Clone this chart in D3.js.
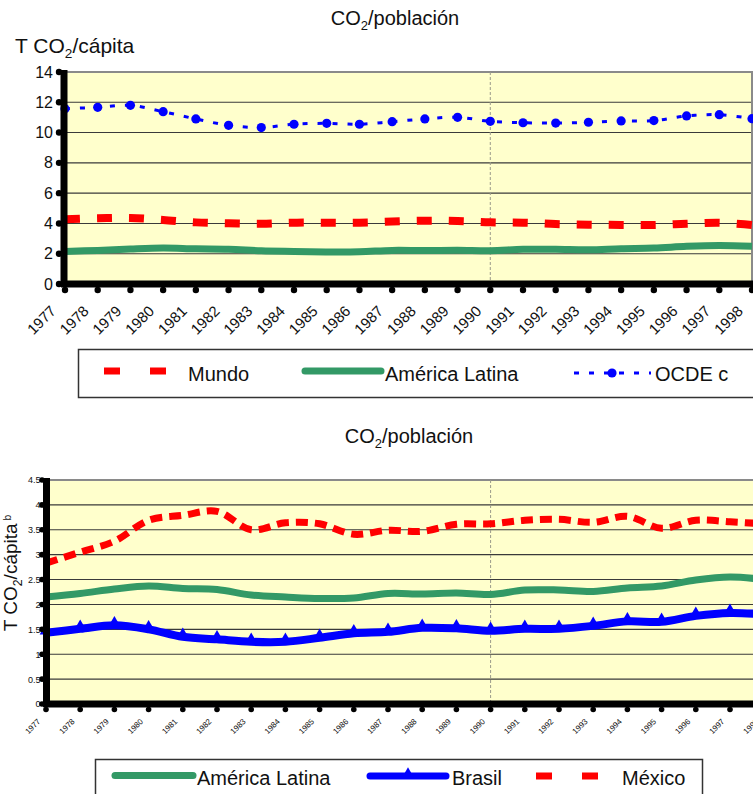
<!DOCTYPE html>
<html><head><meta charset="utf-8">
<script src="https://cdn.jsdelivr.net/npm/d3@7"></script>
<style>
html,body{margin:0;padding:0;background:#fff;}
svg{display:block;font-family:"Liberation Sans",Arial,Helvetica,sans-serif;}
</style></head>
<body>
<svg id="c" width="753" height="794"></svg>
<script>
const years = ["1977","1978","1979","1980","1981","1982","1983","1984","1985","1986","1987","1988","1989","1990","1991","1992","1993","1994","1995","1996","1997","1998"];
const mundo = [4.27,4.34,4.36,4.23,4.07,4.01,3.98,4.05,4.05,4.05,4.12,4.18,4.16,4.07,4.05,3.96,3.92,3.90,3.90,3.98,4.05,3.90];
const ocde = [11.58,11.67,11.80,11.38,10.90,10.48,10.33,10.55,10.61,10.55,10.72,10.90,11.01,10.74,10.65,10.63,10.68,10.77,10.79,11.10,11.18,10.92];
const americaLatina = [2.15,2.22,2.31,2.37,2.32,2.30,2.19,2.15,2.12,2.13,2.22,2.21,2.23,2.20,2.29,2.29,2.26,2.33,2.37,2.49,2.55,2.50];
const brasil = [1.43,1.51,1.58,1.50,1.35,1.30,1.25,1.25,1.33,1.42,1.45,1.53,1.52,1.47,1.51,1.51,1.57,1.66,1.65,1.77,1.83,1.80];
const mexico = [2.83,3.05,3.27,3.69,3.79,3.87,3.50,3.64,3.62,3.41,3.49,3.47,3.61,3.62,3.69,3.71,3.65,3.77,3.53,3.69,3.66,3.62];
const ticksTop = [0,2,4,6,8,10,12,14];
const ticksBottom = [0,0.5,1,1.5,2,2.5,3,3.5,4,4.5];
const markerYear = "1990";

const svg = d3.select("#c");
const RED="#FF0000", GREEN="#339966", BLUE="#0000FF", BG="#FFFFCC";

function subText(g, x, y, parts, size, anchor, transform){
  const t = g.append("text").attr("x",x).attr("y",y).attr("font-size",size)
    .attr("text-anchor",anchor||"start").attr("fill","#111");
  if(transform) t.attr("transform",transform);
  parts.forEach(p=>{
    const ts = t.append("tspan").text(p.t);
    if(p.sub){ ts.attr("font-size",size*0.65).attr("dy",size*0.25); }
    else if(p.sup){ ts.attr("font-size",size*0.55).attr("dy",-size*0.3); }
    else if(p.back){ ts.attr("dy",p.back); }
  });
  return t;
}

function chart(o){
  const g = svg.append("g");
  const x = d3.scalePoint().domain(years).range([o.x0,o.x1]);
  const y = d3.scaleLinear().domain([0,o.ymax]).range([o.yb,o.yt]);
  g.append("rect").attr("x",o.x0).attr("y",o.yt).attr("width",Math.max(0,o.x1-o.x0+20)).attr("height",o.yb-o.yt).attr("fill",BG);
  g.append("g").selectAll("line").data(o.ticks.filter(d=>d>0 && d<o.ymax)).join("line")
    .attr("x1",o.x0).attr("x2",o.x1+20).attr("y1",d=>y(d)).attr("y2",d=>y(d))
    .attr("stroke","#3a3a3a").attr("stroke-width",1.1);
  g.append("line").attr("x1",o.x0).attr("x2",o.x1+20).attr("y1",y(o.ymax)).attr("y2",y(o.ymax))
    .attr("stroke","#8a8a8a").attr("stroke-width",2);
  if(o.rightFrame){
    g.append("line").attr("x1",o.x1).attr("x2",o.x1).attr("y1",y(o.ymax)).attr("y2",o.yb)
      .attr("stroke","#8a8a8a").attr("stroke-width",2);
  }
  g.append("line").attr("x1",x(markerYear)).attr("x2",x(markerYear)).attr("y1",y(o.ymax)).attr("y2",o.yb)
    .attr("stroke","#9a9a8a").attr("stroke-width",1).attr("stroke-dasharray","3,2");
  const line = (vals)=>d3.line().x((d,i)=>x(years[i])).y(d=>y(d)).curve(d3.curveCatmullRom.alpha(0.5))(vals);
  o.series.forEach(s=>{
    g.append("path").attr("d",line(s.values)).attr("fill","none").attr("stroke",s.color)
      .attr("stroke-width",s.width).attr("stroke-dasharray",s.dash||null)
      .attr("stroke-linecap",s.cap||"butt").attr("stroke-linejoin","round");
    if(s.marker==="circle"){
      g.append("g").selectAll("circle").data(s.values).join("circle")
        .attr("cx",(d,i)=>x(years[i])).attr("cy",d=>y(d)).attr("r",4.6).attr("fill",s.color);
    } else if(s.marker==="triangle"){
      g.append("g").selectAll("path").data(s.values).join("path")
        .attr("d",d3.symbol(d3.symbolTriangle,70)())
        .attr("transform",(d,i)=>`translate(${x(years[i])},${y(d)-2})`).attr("fill",s.color);
    }
  });
  const ax = g.append("g").attr("transform",`translate(${o.axX},0)`)
    .call(d3.axisLeft(y).tickValues(o.ticks).tickSize(0).tickPadding(o.yPad).tickFormat(d=>String(d)));
  ax.select(".domain").remove();
  ax.selectAll("text").attr("font-size",o.yFont).attr("fill","#111").attr("font-family","Liberation Sans, Arial, sans-serif");
  g.append("g").selectAll("circle").data(o.ticks).join("circle")
    .attr("cx",o.axX-o.dotOff).attr("cy",d=>y(d)).attr("r",o.dotR).attr("fill","#000");
  g.append("g").selectAll("circle").data(years).join("circle")
    .attr("cx",d=>x(d)).attr("cy",o.yb+o.dotOff+1).attr("r",o.dotR).attr("fill","#000");
  g.append("line").attr("x1",o.axX).attr("x2",o.axX).attr("y1",y(o.ymax)-2).attr("y2",o.yb+3)
    .attr("stroke","#000").attr("stroke-width",7);
  g.append("line").attr("x1",o.axX-3).attr("x2",o.x1+20).attr("y1",o.yb).attr("y2",o.yb)
    .attr("stroke","#000").attr("stroke-width",7);
  g.append("g").selectAll("text").data(years).join("text")
    .attr("transform",d=>`translate(${x(d)-o.lx},${o.yb+o.ly}) rotate(-45)`)
    .attr("text-anchor","end").attr("font-size",o.xFont).attr("fill","#111").text(d=>d);
  return g;
}

// ---------- top chart ----------
subText(svg, 395, 25, [{t:"CO"},{t:"2",sub:true},{t:"/población",back:-20*0.25}], 20, "middle");
subText(svg, 15, 53, [{t:"T CO"},{t:"2",sub:true},{t:"/cápita",back:-21*0.25}], 21, "start");
chart({x0:65,x1:752,yt:72,yb:284,ymax:14,ticks:ticksTop,axX:64,yPad:11,yFont:16,dotOff:5,dotR:3.2,
  xFont:15,lx:8,ly:28,rightFrame:true,
  series:[
    {values:americaLatina,color:GREEN,width:7},
    {values:mundo,color:RED,width:8,dash:"15,17"},
    {values:ocde,color:BLUE,width:3,dash:"5,10",marker:"circle"}
  ]});
const lg1 = svg.append("g");
lg1.append("rect").attr("x",78.5).attr("y",349.5).attr("width",700).attr("height",48).attr("fill","#fff").attr("stroke","#333").attr("stroke-width",1.5);
lg1.append("line").attr("x1",104).attr("x2",166).attr("y1",371).attr("y2",371).attr("stroke",RED).attr("stroke-width",7).attr("stroke-dasharray","16,30");
lg1.append("text").attr("x",188).attr("y",381).attr("font-size",20).attr("fill","#111").text("Mundo");
lg1.append("line").attr("x1",305).attr("x2",381).attr("y1",371).attr("y2",371).attr("stroke",GREEN).attr("stroke-width",7).attr("stroke-linecap","round");
lg1.append("text").attr("x",385).attr("y",381).attr("font-size",20).attr("fill","#111").text("América Latina");
lg1.append("line").attr("x1",574).attr("x2",651).attr("y1",373).attr("y2",373).attr("stroke",BLUE).attr("stroke-width",3).attr("stroke-dasharray","5,10");
lg1.append("circle").attr("cx",612).attr("cy",373).attr("r",4.6).attr("fill",BLUE);
lg1.append("text").attr("x",655).attr("y",381).attr("font-size",20).attr("fill","#111").text("OCDE c");

// ---------- bottom chart ----------
subText(svg, 409, 443, [{t:"CO"},{t:"2",sub:true},{t:"/población",back:-20*0.25}], 20, "middle");
subText(svg, 0, 0, [{t:"T CO"},{t:"2",sub:true},{t:"/cápita",back:-19*0.25},{t:" b",sup:true}], 19, "middle", "translate(17,573) rotate(-90)");
chart({x0:46,x1:46+21*34.2,yt:480,yb:704,ymax:4.5,ticks:ticksBottom,axX:46.5,yPad:6,yFont:9,dotOff:4.5,dotR:2.8,
  xFont:8,lx:5,ly:18,rightFrame:false,
  series:[
    {values:mexico,color:RED,width:7,dash:"12,7"},
    {values:americaLatina,color:GREEN,width:7},
    {values:brasil,color:BLUE,width:8,marker:"triangle"}
  ]});
const lg2 = svg.append("g");
lg2.append("rect").attr("x",95.5).attr("y",759.5).attr("width",607).attr("height",48).attr("fill","#fff").attr("stroke","#333").attr("stroke-width",1.5);
lg2.append("line").attr("x1",115).attr("x2",193).attr("y1",775.5).attr("y2",775.5).attr("stroke",GREEN).attr("stroke-width",7).attr("stroke-linecap","round");
lg2.append("text").attr("x",197).attr("y",785).attr("font-size",20).attr("fill","#111").text("América Latina");
lg2.append("line").attr("x1",370).attr("x2",446).attr("y1",776).attr("y2",776).attr("stroke",BLUE).attr("stroke-width",7).attr("stroke-linecap","round");
lg2.append("path").attr("d",d3.symbol(d3.symbolTriangle,60)()).attr("transform","translate(408,774)").attr("fill",BLUE);
lg2.append("text").attr("x",452).attr("y",785).attr("font-size",20).attr("fill","#111").text("Brasil");
lg2.append("line").attr("x1",536).attr("x2",598).attr("y1",776).attr("y2",776).attr("stroke",RED).attr("stroke-width",7).attr("stroke-dasharray","16,30");
lg2.append("text").attr("x",622).attr("y",785).attr("font-size",20).attr("fill","#111").text("México");
</script>
</body></html>
